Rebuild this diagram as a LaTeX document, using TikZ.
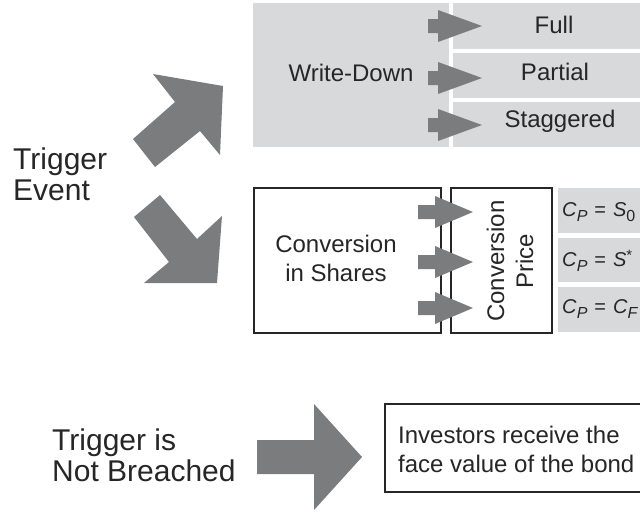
\documentclass[tikz,border=0pt]{standalone}
\usepackage{fontspec}
\setmainfont{Liberation Sans}
\definecolor{arrowgray}{HTML}{7B7C7E}
\definecolor{boxgray}{HTML}{D8D9DB}
\newcommand{\bigf}{\fontsize{30}{31}\selectfont}
\newcommand{\medf}{\fontsize{24}{29}\selectfont}
\newcommand{\frmf}{\fontsize{20}{22}\selectfont}
\newcommand{\sub}[1]{\raisebox{-0.45ex}{\fontsize{16}{17}\selectfont #1}}
\newcommand{\eqsign}{\hspace{7pt}=\hspace{7pt}}
\newcommand{\myarrow}[4]{%
  \fill[arrowgray] (#1,#4-7) -- (#2,#4-7) -- (#2,#4-16) -- (#3,#4) -- (#2,#4+16) -- (#2,#4+7) -- (#1,#4+7) -- cycle;}
\begin{document}
\begin{tikzpicture}[x=1pt,y=-1pt,
  graybox/.style={fill=boxgray,draw=none},
  framebox/.style={draw=black!85,line width=1.5pt,fill=white},
  lbl/.style={inner sep=0pt,align=left,text=black!85},
  clbl/.style={inner sep=0pt,align=center,text=black!85}]
\useasboundingbox (0,0) rectangle (640,512);
\clip (0,0) rectangle (640,512);

% top write-down group
\fill[graybox] (253,3) rectangle (449,147);
\fill[graybox] (453,3) rectangle (640,49);
\fill[graybox] (453,53) rectangle (640,98);
\fill[graybox] (453,102) rectangle (640,147);
\node[clbl,font=\medf] (wd) at (351,73) {Write-Down};
\node[clbl,font=\medf] (full) at (554,25) {Full};
\node[clbl,font=\medf] (partial) at (555,72) {Partial};
\node[clbl,font=\medf] (stag) at (560,121) {Staggered};
\myarrow{428}{438}{482}{26}
\myarrow{428}{438}{482}{78}
\myarrow{428}{438}{482}{125}

% left trigger
\node[lbl,font=\bigf,anchor=west] (trig) at (13,174) {Trigger\\Event};
\fill[arrowgray] (133,139) -- (175,102) -- (153,74) -- (223,86) -- (220,155) -- (200,131) -- (155,167) -- cycle;
\fill[arrowgray] (134,217) -- (160,195) -- (197,239) -- (222,216) -- (217,283) -- (144,283) -- (169,262) -- cycle;

% conversion group
\draw[framebox] (254,188) rectangle (441,333);
\draw[framebox] (451,188) rectangle (552,333);
\node[clbl,font=\medf] (cis) at (336,258) {Conversion\\in Shares};
\node[clbl,font=\medf,rotate=90] (cp) at (510,261) {Conversion\\Price};
\fill[graybox] (558,188) rectangle (640,233);
\fill[graybox] (558,238) rectangle (640,282);
\fill[graybox] (558,287) rectangle (640,332);
\node[lbl,font=\frmf,anchor=west] (f1) at (562,212) {\textit{C}\sub{\textit{P}}\eqsign\textit{S}\sub{0}};
\node[lbl,font=\frmf,anchor=west] (f2) at (562,261) {\textit{C}\sub{\textit{P}}\eqsign\textit{S}\raisebox{0.6ex}{\fontsize{15}{16}\selectfont *}};
\node[lbl,font=\frmf,anchor=west] (f3) at (562,309) {\textit{C}\sub{\textit{P}}\eqsign\textit{C}\sub{\textit{F}}};
\myarrow{418}{435}{473}{212}
\myarrow{418}{435}{473}{262}
\myarrow{418}{435}{473}{308}

% bottom
\node[lbl,font=\bigf,anchor=west] (nb) at (52,455) {Trigger is\\Not Breached};
\fill[arrowgray] (257,440) -- (314,440) -- (314,404) -- (362,457) -- (314,510) -- (314,474) -- (257,474) -- cycle;
\draw[framebox] (385,404) rectangle (660,492);
\node[lbl,font=\medf,anchor=west] (inv) at (398,449) {Investors receive the\\face value of the bond};
\end{tikzpicture}
\end{document}
